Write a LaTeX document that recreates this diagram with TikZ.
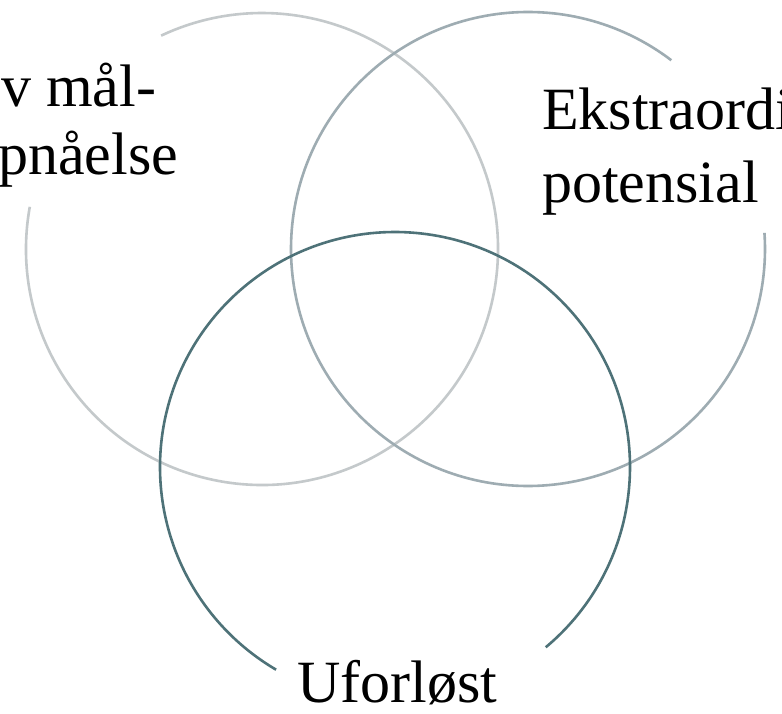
\documentclass[tikz,border=0pt]{standalone}
\usepackage{fontspec}
\setmainfont{Liberation Serif}
\definecolor{ringA}{RGB}{196,201,203}
\definecolor{ringB}{RGB}{158,172,178}
\definecolor{ringC}{RGB}{78,114,120}
\begin{document}
\begin{tikzpicture}[x=1pt,y=-1pt,
  ring/.style={line width=2.6pt},
  lbl/.style={inner sep=0pt,anchor=base west,font=\fontsize{60}{68}\selectfont}]
\useasboundingbox[fill=white] (0,0) rectangle (782,714);
\coordinate (cA) at (262,249);
\coordinate (cB) at (528,249);
\coordinate (cC) at (395,467);
\draw[ring,ringA] (cA) ++(-169.7:236) arc[start angle=-169.7,end angle=-475.3,radius=236];
\draw[ring,ringB] (cB) ++(-52.8:237) arc[start angle=-52.8,end angle=-363.9,radius=237];
\draw[ring,ringC] (cC) ++(50.1:235) arc[start angle=50.1,end angle=-239.6,radius=235];
\node[lbl] (t1) at (1,107) {v mål-};
\node[lbl] (t2) at (-2,175) {pnåelse};
\node[lbl] (t3) at (542,130) {Ekstraordi};
\node[lbl] (t4) at (542,203) {potensial};
\node[lbl] (t5) at (297,702) {Uforløst};
\end{tikzpicture}
\end{document}
